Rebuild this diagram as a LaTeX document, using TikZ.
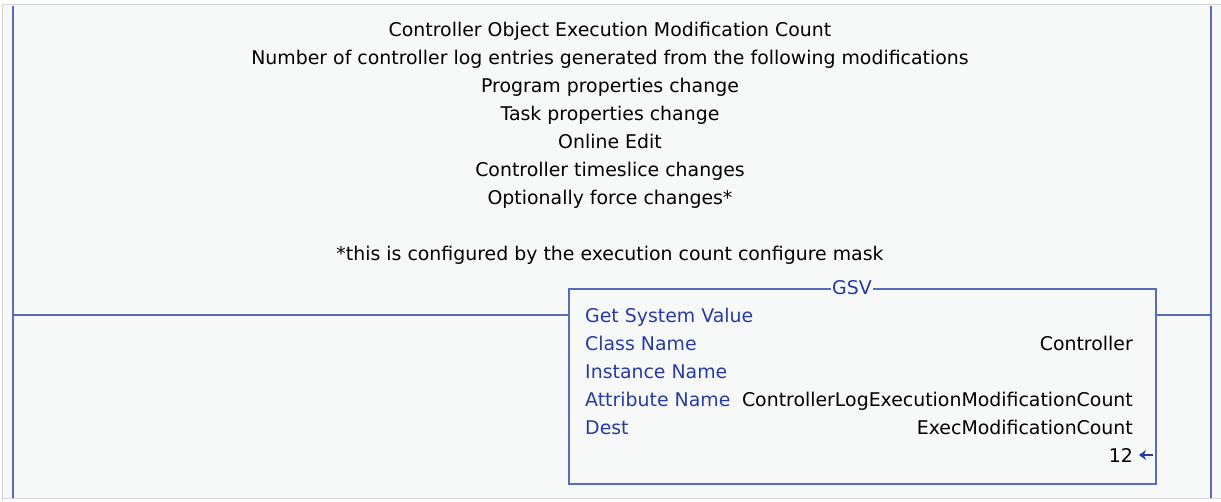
\documentclass[tikz,border=0pt]{standalone}
\usepackage{fontspec}
\usetikzlibrary{arrows.meta}
\setmainfont{DejaVu Sans}
\definecolor{bgc}{RGB}{247,249,249}
\definecolor{railc}{RGB}{88,108,190}
\definecolor{framec}{RGB}{212,212,212}
\definecolor{labc}{RGB}{40,60,160}
\definecolor{txtc}{RGB}{0,0,0}
\begin{document}
\begin{tikzpicture}[x=1pt,y=-1pt,
  txt/.style={font=\fontsize{18.9}{22}\selectfont, text=txtc, inner sep=0pt, anchor=base},
  lab/.style={txt, text=labc, anchor=base west},
  val/.style={txt, anchor=base east},
  rail/.style={draw=railc, line width=2.4pt},
  wire/.style={draw=railc, line width=1.8pt},
  boxst/.style={draw=railc, line width=1.6pt}]
\useasboundingbox (0,0) rectangle (1221,501);
\fill[white] (0,0) rectangle (1221,501);
\fill[bgc] (3,5) rectangle (1221,498);
\draw[framec, line width=1.5pt] (2.5,501) -- (2.5,4.5) -- (1221,4.5);
\draw[framec, line width=1.5pt] (2.5,498.5) -- (1221,498.5);
% rails
\coordinate (lt) at (13,6);
\coordinate (lb) at (13,498);
\coordinate (rt) at (1211,6);
\coordinate (rb) at (1211,498);
\draw[rail] (lt) -- (lb);
\draw[rail] (rt) -- (rb);
% comment lines
\foreach \t/\y [count=\i] in {Controller Object Execution Modification Count/29,
  Number of controller log entries generated from the following modifications/57,
  Program properties change/85,
  Task properties change/113,
  Online Edit/141,
  Controller timeslice changes/169,
  Optionally force changes*/197,
  *this is configured by the execution count configure mask/253}
  \node[txt] (c\i) at (610,\y+7) {\t};
% GSV box
\node[boxst, minimum width=587pt, minimum height=195pt, anchor=north west, inner sep=0pt] (box) at (568,288) {};
\node[txt, anchor=center, fill=bgc, inner sep=1.5pt, text=labc] (gsv) at (852,288) {GSV};
\coordinate (wl) at (13,315);
\coordinate (wr) at (1211,315);
\draw[wire] (wl) -- (box.west |- wl);
\draw[wire] (box.east |- wr) -- (wr);
% box content
\node[lab] (l1) at (585,322) {Get System Value};
\node[lab] (l2) at (585,350) {Class Name};
\node[lab] (l3) at (585,378) {Instance Name};
\node[lab] (l4) at (585,406) {Attribute Name};
\node[lab] (l5) at (585,434) {Dest};
\node[val] (v2) at (1133,350) {Controller};
\node[val] (v4) at (1133,406) {ControllerLogExecutionModificationCount};
\node[val] (v5) at (1133,434) {ExecModificationCount};
\node[val] (v6) at (1133,462) {12};
\coordinate (a1) at (1153,455);
\coordinate (a2) at (1139,455);
\draw[labc, line width=2pt, -{Stealth[length=7pt,width=10pt]}] (a1) -- (a2);
\end{tikzpicture}
\end{document}
